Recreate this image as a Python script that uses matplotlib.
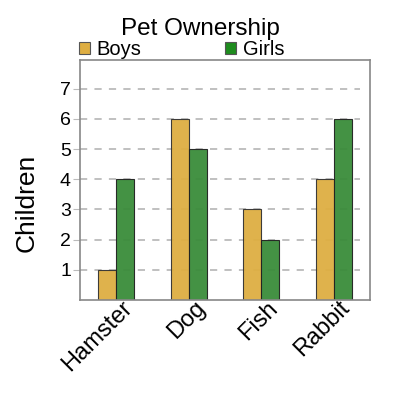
import numpy as np
import matplotlib
matplotlib.use("Agg")
import matplotlib.pyplot as plt
from matplotlib.transforms import ScaledTranslation

plt.rcParams['font.family'] = ['Liberation Sans', 'DejaVu Sans']

# data
pets = ['Hamster', 'Dog', 'Fish', 'Rabbit']
boys = [1, 6, 3, 4]
girls = [4, 5, 2, 6]
yticks = [1, 2, 3, 4, 5, 6, 7]

BOY_COLOR = '#DEAE42'
GIRL_COLOR = '#3A8C3A'

fig = plt.figure(figsize=(4, 4), dpi=100)
ax = fig.add_axes([0.2, 0.25, 0.725, 0.6])

x = np.arange(len(pets))
w = 0.25

# dashed grid lines, stopping a little before the right edge
ax.hlines(yticks, -0.5, 3.36, colors='#BBBBBB', linestyles=(0, (4, 4)), linewidth=1.3, zorder=1)

ax.bar(x - w / 2, boys, w, color=BOY_COLOR, edgecolor='#333333', linewidth=0.8, alpha=0.95, zorder=2, label='Boys')
ax.bar(x + w / 2, girls, w, color=GIRL_COLOR, edgecolor='#222222', linewidth=0.8, alpha=0.95, zorder=2, label='Girls')

ax.set_xlim(-0.5, 3.5)
ax.set_ylim(0, 7.95)
ax.set_yticks(yticks)
ax.set_yticklabels([str(t) for t in yticks], fontsize=14)
ax.set_xticks(x)
ax.set_xticklabels(pets, fontsize=17, rotation=45, ha='right', rotation_mode='anchor')
ax.tick_params(axis='y', length=5, color='#BBBBBB', pad=1.5)
ax.tick_params(axis='x', length=0, pad=0)
off = ScaledTranslation(5 / 100, 3 / 100, fig.dpi_scale_trans)
for lab in ax.get_xticklabels():
    lab.set_transform(lab.get_transform() + off)
for s in ax.spines.values():
    s.set_color('#888888')
    s.set_linewidth(1.2)

fig.text(0.0675, 0.4925, 'Children', rotation=90, ha='center', va='center', fontsize=19)
fig.text(0.5, 0.927, 'Pet Ownership', ha='center', va='center', fontsize=17.5)

leg = ax.legend(loc='lower left', bbox_to_anchor=(-0.005, 1.005), ncol=2, frameon=False,
                fontsize=14.5, handlelength=0.55, handleheight=0.55, handletextpad=0.35,
                columnspacing=4.15, borderpad=0, borderaxespad=0)
for h, c in zip(leg.legend_handles, [BOY_COLOR, '#1E8C1E']):
    h.set_facecolor(c)
    h.set_alpha(1)
    h.set_edgecolor('#555555')

fig.savefig('out.png', dpi=100)
